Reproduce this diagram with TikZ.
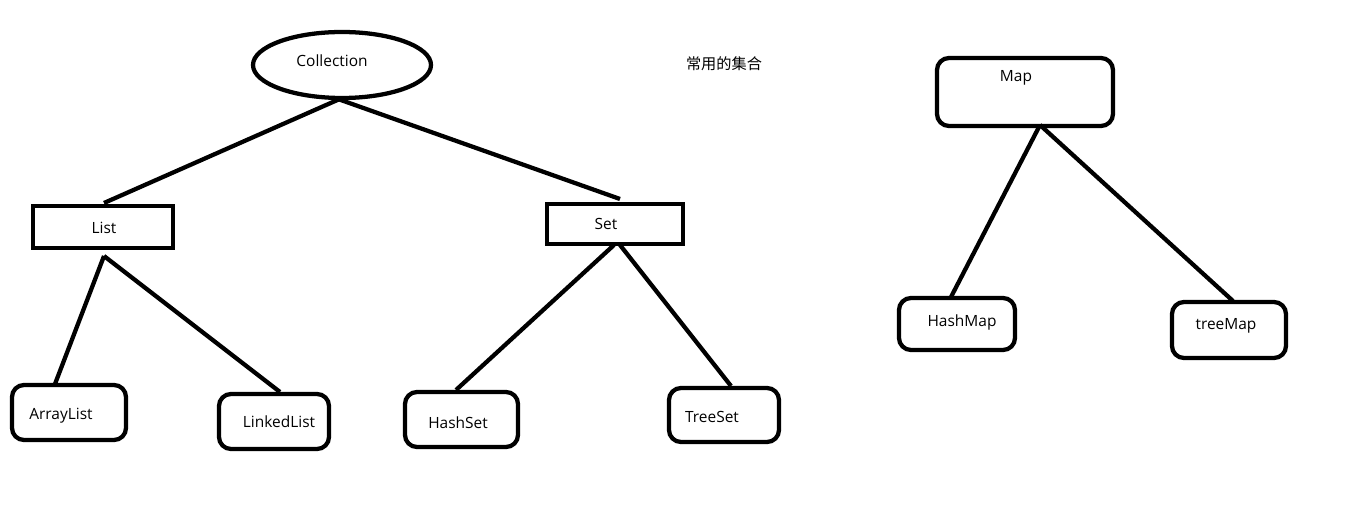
\documentclass[tikz,border=0pt]{standalone}
\usepackage{fontspec}
\setmainfont{Open Sans}
\newfontfamily\cjk{Noto Sans CJK SC}
\usetikzlibrary{shapes.geometric}
\begin{document}
\begin{tikzpicture}[x=0.75pt,y=-0.75pt,
  shapebox/.style={draw=black,line width=3.2pt,inner sep=0pt,outer sep=0pt},
  sqbox/.style={shapebox,rectangle},
  rbox/.style={shapebox,rectangle,rounded corners=9pt},
  oval/.style={shapebox,ellipse},
  lbl/.style={inner sep=0pt,font=\fontsize{11.6pt}{14pt}\selectfont},
  link/.style={line width=3.2pt,draw=black}]
\useasboundingbox[fill=white] (0,0) rectangle (1360,527);

% outlines
\node[oval,minimum width=133.5pt,minimum height=49.5pt] (coll) at (342,65) {};
\node[sqbox,minimum width=105pt,minimum height=31.5pt] (list) at (103,227) {};
\node[sqbox,minimum width=102pt,minimum height=30pt] (set) at (615,224) {};
\node[rbox,minimum width=85.5pt,minimum height=41.25pt] (alist) at (69,412.5) {};
\node[rbox,minimum width=82.5pt,minimum height=41.25pt] (llist) at (274,421.5) {};
\node[rbox,minimum width=84.75pt,minimum height=41.25pt] (hset) at (461.5,419.5) {};
\node[rbox,minimum width=82.5pt,minimum height=40.5pt] (tset) at (724,415) {};
\node[rbox,minimum width=132pt,minimum height=51pt] (map) at (1025,92) {};
\node[rbox,minimum width=87pt,minimum height=39pt] (hmap) at (957,324) {};
\node[rbox,minimum width=85.5pt,minimum height=42pt] (tmap) at (1229,330) {};

% labels
\node[lbl] (tcoll) at (332,61) {Collection};
\node[lbl] (tlist) at (104,228) {List};
\node[lbl] (tset) at (606,224) {Set};
\node[lbl] (talist) at (61,416) {ArrayList};
\node[lbl] (tllist) at (279,422) {LinkedList};
\node[lbl] (thset) at (458,423) {HashSet};
\node[lbl] (ttset) at (712,417) {TreeSet};
\node[lbl] (tmap) at (1016,78) {Map};
\node[lbl] (thmap) at (962,322) {HashMap};
\node[lbl] (ttmap) at (1226,326) {treeMap};
\node[lbl,font=\cjk\fontsize{11.4pt}{14pt}\selectfont] (title) at (724,64) {常用的集合};

% connector end points
\coordinate (collL) at (342,98);
\coordinate (collR) at (338,99);
\coordinate (listT) at (104,203);
\coordinate (setT) at (620,199);
\coordinate (listB) at (104,256);
\coordinate (alistT) at (55,384);
\coordinate (llistT) at (280,392);
\coordinate (setBL) at (614,245);
\coordinate (setBR) at (620,245);
\coordinate (hsetT) at (456,390);
\coordinate (tsetT) at (731,386);
\coordinate (mapB) at (1040,125);
\coordinate (hmapT) at (951,297);
\coordinate (tmapT) at (1233,301);

% connectors
\draw[link] (collL) -- (listT);
\draw[link] (collR) -- (setT);
\draw[link] (listB) -- (alistT);
\draw[link] (listB) -- (llistT);
\draw[link] (setBL) -- (hsetT);
\draw[link] (setBR) -- (tsetT);
\draw[link] (mapB) -- (hmapT);
\draw[link] (mapB) -- (tmapT);
\end{tikzpicture}
\end{document}
